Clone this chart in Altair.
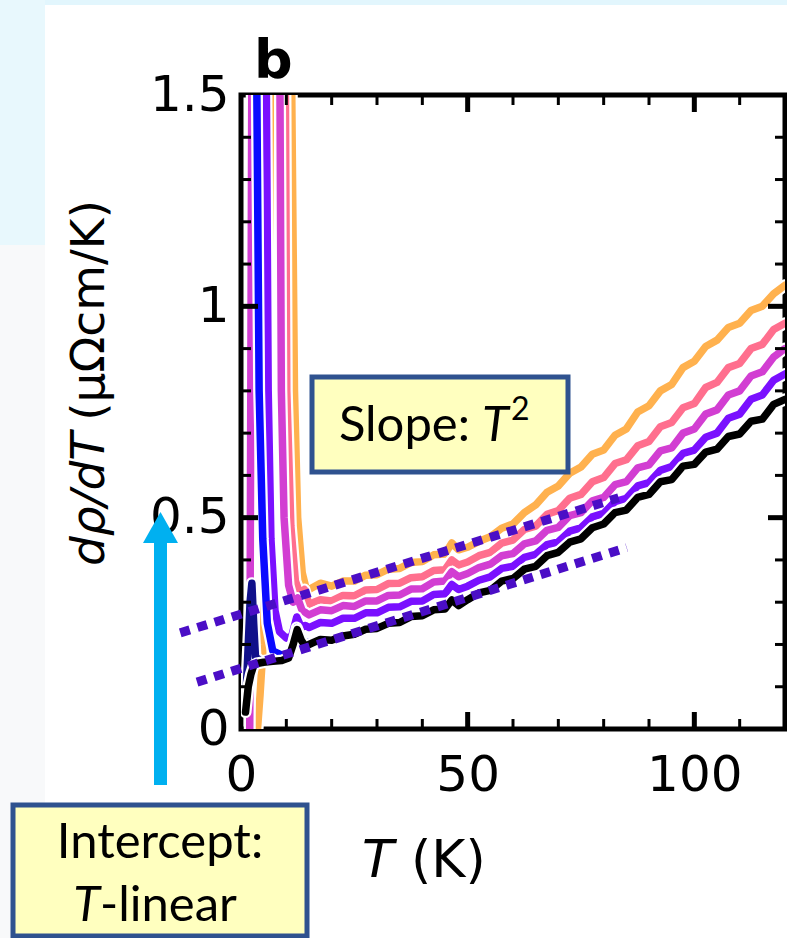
import altair as alt
import pandas as pd

# ---------------- data ----------------
SERIES_NAMES = ["orange", "pink", "magenta", "violet", "blue", "navy", "black"]
SERIES_COLORS = ["#ffb14e", "#ff6f8e", "#d23ed2", "#7a10ff", "#0a0aff", "#10108a", "#000000"]

T_HIGH = [15, 17.5, 20, 22.5, 25, 27.5, 30, 32.5, 35, 37.5, 40, 42.5, 45, 46.5, 48,
          50, 52.5, 55, 57.5, 60, 62.5, 65, 67.5, 70, 72.5, 75, 77.5, 80, 82.5, 85,
          87.5, 90, 92.5, 95, 97.5, 100, 102.5, 105, 107.5, 110, 112.5, 115, 117.5, 120]

HIGH_ORANGE = [0.330, 0.345, 0.338, 0.350, 0.350, 0.364, 0.365, 0.378, 0.380, 0.394, 0.396, 0.412, 0.414, 0.440, 0.424,
               0.430, 0.444, 0.455, 0.475, 0.485, 0.512, 0.530, 0.560, 0.575, 0.605, 0.620, 0.650, 0.660, 0.695, 0.710,
               0.750, 0.765, 0.800, 0.815, 0.855, 0.870, 0.905, 0.920, 0.950, 0.960, 0.990, 1.000, 1.030, 1.050]
HIGH_PINK = [0.295, 0.306, 0.303, 0.316, 0.315, 0.329, 0.330, 0.344, 0.345, 0.358, 0.360, 0.375, 0.377, 0.400, 0.388,
             0.395, 0.410, 0.418, 0.440, 0.447, 0.472, 0.480, 0.508, 0.517, 0.546, 0.555, 0.585, 0.595, 0.628, 0.637,
             0.670, 0.680, 0.715, 0.725, 0.760, 0.770, 0.808, 0.820, 0.855, 0.865, 0.900, 0.910, 0.945, 0.960]
HIGH_MAGENTA = [0.270, 0.282, 0.280, 0.292, 0.290, 0.303, 0.303, 0.316, 0.317, 0.331, 0.332, 0.348, 0.350, 0.372, 0.360,
                0.368, 0.382, 0.390, 0.410, 0.415, 0.438, 0.445, 0.470, 0.477, 0.505, 0.512, 0.540, 0.548, 0.578, 0.585,
                0.618, 0.625, 0.658, 0.665, 0.700, 0.710, 0.745, 0.755, 0.790, 0.800, 0.835, 0.845, 0.880, 0.900]
HIGH_VIOLET = [0.240, 0.252, 0.250, 0.262, 0.262, 0.275, 0.275, 0.288, 0.289, 0.302, 0.303, 0.318, 0.320, 0.342, 0.330,
               0.338, 0.352, 0.360, 0.380, 0.385, 0.406, 0.413, 0.436, 0.443, 0.468, 0.476, 0.502, 0.510, 0.538, 0.546,
               0.575, 0.583, 0.612, 0.621, 0.652, 0.660, 0.690, 0.700, 0.735, 0.745, 0.780, 0.790, 0.825, 0.840]
HIGH_BLACK = [0.200, 0.212, 0.210, 0.220, 0.224, 0.236, 0.238, 0.250, 0.252, 0.266, 0.268, 0.282, 0.284, 0.305, 0.292,
              0.306, 0.322, 0.328, 0.350, 0.356, 0.378, 0.385, 0.410, 0.418, 0.442, 0.450, 0.476, 0.485, 0.512, 0.518,
              0.548, 0.555, 0.585, 0.590, 0.622, 0.626, 0.655, 0.662, 0.692, 0.698, 0.728, 0.733, 0.768, 0.780]

LOW_T_ORANGE = [3.3, 4.2, 4.9, 5.6, 6.3, 7.0, 8.5, 10.0, 11.2, 11.8, 12.5, 13.5, 14.3]
LOW_V_ORANGE = [-0.05, 0.08, 0.2, 0.5, 1.2, 2.2, 3.0, 2.6, 1.5, 0.8, 0.5, 0.37, 0.335]
LOW_T_PINK = [8.0, 9.8, 10.1, 11.0, 12.0, 13.0, 14.0]
LOW_V_PINK = [3.0, 1.5, 0.8, 0.48, 0.35, 0.32, 0.33]
LOW_T_MAGENTA = [1.9, 2.1, 2.4, 3.5, 6.5, 8.6, 8.9, 9.5, 10.5, 11.5, 12.5, 13.5, 14.3]
LOW_V_MAGENTA = [-0.1, 0.6, 1.6, 3.0, 3.0, 1.5, 0.8, 0.5, 0.34, 0.30, 0.31, 0.28, 0.275]
LOW_T_VIOLET = [4.5, 5.6, 6.0, 6.6, 7.5, 8.5, 10.0, 11.2, 12.3, 13.3, 14.2]
LOW_V_VIOLET = [3.0, 1.5, 0.8, 0.45, 0.28, 0.23, 0.215, 0.22, 0.265, 0.24, 0.245]
LOW_T_BLUE = [2.8, 3.5, 4.0, 4.8, 5.8, 7.0, 9.0, 11.0, 12.3, 13.5, 15.0]
LOW_V_BLUE = [3.0, 1.5, 0.8, 0.45, 0.25, 0.185, 0.175, 0.18, 0.24, 0.205, 0.205]
LOW_T_NAVY = [1.1, 1.6, 2.0, 2.4, 2.8, 3.2, 4.5, 7.0]
LOW_V_NAVY = [0.08, 0.2, 0.30, 0.345, 0.25, 0.17, 0.16, 0.165]
LOW_T_BLACK = [1.0, 1.6, 2.2, 2.8, 3.5, 5.0, 7.0, 9.0, 10.5, 11.5, 12.4, 13.3, 14.2]
LOW_V_BLACK = [0.04, 0.10, 0.13, 0.15, 0.155, 0.158, 0.16, 0.162, 0.168, 0.20, 0.235, 0.21, 0.195]

SERIES_T = {
    "orange": LOW_T_ORANGE + T_HIGH,
    "pink": LOW_T_PINK + T_HIGH,
    "magenta": LOW_T_MAGENTA + T_HIGH,
    "violet": LOW_T_VIOLET + T_HIGH,
    "blue": LOW_T_BLUE,
    "navy": LOW_T_NAVY,
    "black": LOW_T_BLACK + T_HIGH,
}
SERIES_V = {
    "orange": LOW_V_ORANGE + HIGH_ORANGE,
    "pink": LOW_V_PINK + HIGH_PINK,
    "magenta": LOW_V_MAGENTA + HIGH_MAGENTA,
    "violet": LOW_V_VIOLET + HIGH_VIOLET,
    "blue": LOW_V_BLUE,
    "navy": LOW_V_NAVY,
    "black": LOW_V_BLACK + HIGH_BLACK,
}

# dotted guide lines (T, value)
DOT_UPPER_T = [-13.4, 83.3]
DOT_UPPER_V = [0.2275, 0.547]
DOT_LOWER_T = [-9.7, 85.1]
DOT_LOWER_V = [0.111, 0.429]

X_LABEL_TICKS = [0, 50, 100]
X_MAJOR_TICKS = [50, 100]
X_MINOR_TICKS = [10, 20, 30, 40, 60, 70, 80, 90, 110]
Y_LABEL_TICKS = [0, 0.5, 1.0, 1.5]
Y_MAJOR_TICKS = [0.5, 1.0]
Y_MINOR_TICKS = [0.1, 0.2, 0.3, 0.4, 0.6, 0.7, 0.8, 0.9, 1.1, 1.2, 1.3, 1.4]

# ---------------- layout ----------------
W, H = 544, 634
PAD_L, PAD_T = 241, 95
TOTAL_W, TOTAL_H = 787, 938
FONT = "DejaVu Sans"
ANN_FONT = "Lato"

xs = alt.Scale(domain=[0, 120], nice=False, zero=False)
ys = alt.Scale(domain=[0, 1.5], nice=False, zero=False)
X_AXIS = alt.Axis(values=X_LABEL_TICKS, title=None, domain=False, ticks=False, grid=False,
                  labelFont=FONT, labelFontSize=50, labelPadding=21, labelColor="black",
                  labelFlush=False)
Y_AXIS = alt.Axis(values=Y_LABEL_TICKS, title=None, domain=False, ticks=False, grid=False,
                  format=".1~f", labelFont=FONT, labelFontSize=50, labelPadding=12,
                  labelColor="black")


def X(field):
    return alt.X(field, type="quantitative", scale=xs, axis=X_AXIS)


def Y(field):
    return alt.Y(field, type="quantitative", scale=ys, axis=Y_AXIS)


layers = []

# slide-like background bands
bg = pd.DataFrame({"a": [0]})
layers.append(alt.Chart(bg).mark_rect(color="#e2f6fd").encode(
    x=alt.value(-PAD_L), x2=alt.value(TOTAL_W - PAD_L), y=alt.value(-PAD_T), y2=alt.value(-PAD_T + 5)))
layers.append(alt.Chart(bg).mark_rect(color="#e8f8fd").encode(
    x=alt.value(-PAD_L), x2=alt.value(-PAD_L + 45), y=alt.value(-PAD_T), y2=alt.value(150)))
layers.append(alt.Chart(bg).mark_rect(color="#f8f9fa").encode(
    x=alt.value(-PAD_L), x2=alt.value(-PAD_L + 45), y=alt.value(150), y2=alt.value(TOTAL_H - PAD_T)))

# curves, each with a white halo underneath
for name, color in zip(SERIES_NAMES, SERIES_COLORS):
    df = pd.DataFrame({"T": SERIES_T[name], "v": SERIES_V[name], "i": range(len(SERIES_T[name]))})
    layers.append(alt.Chart(df).mark_line(clip=True, color="white", strokeWidth=12,
                                          strokeJoin="round", strokeCap="round").encode(
        x=X("T"), y=Y("v"), order="i:Q"))
    layers.append(alt.Chart(df).mark_line(clip=True, color=color, strokeWidth=7.5,
                                          strokeJoin="round", strokeCap="round").encode(
        x=X("T"), y=Y("v"), order="i:Q"))

# dotted guide lines
for tt, vv in [(DOT_UPPER_T, DOT_UPPER_V), (DOT_LOWER_T, DOT_LOWER_V)]:
    df = pd.DataFrame({"T": tt, "v": vv})
    layers.append(alt.Chart(df).mark_line(clip=False, color="#4b0ec6", strokeWidth=9,
                                          strokeDash=[10, 8], strokeCap="butt").encode(
        x=X("T"), y=Y("v")))

# inward ticks on all four sides
def xticks(vals, length, width):
    df = pd.DataFrame({"t": vals})
    bot = alt.Chart(df).mark_rule(color="black", strokeWidth=width).encode(
        x=X("t"), y=alt.value(H), y2=alt.value(H - length))
    top = alt.Chart(df).mark_rule(color="black", strokeWidth=width).encode(
        x=X("t"), y=alt.value(0), y2=alt.value(length))
    return [bot, top]


def yticks(vals, length, width):
    df = pd.DataFrame({"t": vals})
    left = alt.Chart(df).mark_rule(color="black", strokeWidth=width).encode(
        y=Y("t"), x=alt.value(0), x2=alt.value(length))
    right = alt.Chart(df).mark_rule(color="black", strokeWidth=width).encode(
        y=Y("t"), x=alt.value(W), x2=alt.value(W - length))
    return [left, right]


layers += xticks(X_MINOR_TICKS, 10, 3) + xticks(X_MAJOR_TICKS, 17, 5)
layers += yticks(Y_MINOR_TICKS, 10, 3) + yticks(Y_MAJOR_TICKS, 17, 5)


def text(s, x, y, size, font=FONT, style="normal", weight="normal", align="left",
         baseline="alphabetic", angle=0):
    kw = dict(font=font, fontSize=size, fontStyle=style, fontWeight=weight, align=align,
              baseline=baseline, color="black")
    if angle:
        kw["angle"] = angle
    return alt.Chart(pd.DataFrame({"s": [s]})).mark_text(**kw).encode(
        x=alt.value(x), y=alt.value(y), text="s:N")


# panel letter
layers.append(text("b", 254 - PAD_L, 78 - PAD_T, 54, weight="bold"))

# axis titles
layers.append(text("T", 362 - PAD_L, 877 - PAD_T, 52, style="italic"))
layers.append(text("(K)", 411 - PAD_L, 877 - PAD_T, 52))
layers.append(text("dρ/dT", 104 - PAD_L, 566 - PAD_T, 47, style="italic", angle=270))
layers.append(text("(μΩcm/K)", 104 - PAD_L, 200 - PAD_T, 47, align="right", angle=270))

# annotation boxes
def box(x1, x2, y1, y2):
    return alt.Chart(pd.DataFrame({"a": [0]})).mark_rect(
        fill="#ffffbf", stroke="#2f528f", strokeWidth=5).encode(
        x=alt.value(x1), x2=alt.value(x2), y=alt.value(y1), y2=alt.value(y2))


layers.append(box(312 - PAD_L, 568 - PAD_L, 377 - PAD_T, 472 - PAD_T))
layers.append(text("Slope:", 470 - PAD_L, 441 - PAD_T, 49, font=ANN_FONT, align="right"))
layers.append(text("T", 482 - PAD_L, 441 - PAD_T, 49, font=ANN_FONT, style="italic"))
layers.append(text("2", 511 - PAD_L, 420 - PAD_T, 32, font=ANN_FONT))

layers.append(box(13 - PAD_L, 307 - PAD_L, 805 - PAD_T, 936 - PAD_T))
layers.append(text("Intercept:", 160 - PAD_L, 858 - PAD_T, 49, font=ANN_FONT, align="center"))
layers.append(text("T", 100 - PAD_L, 921 - PAD_T, 49, font=ANN_FONT, style="italic", align="right"))
layers.append(text("-linear", 100 - PAD_L, 921 - PAD_T, 49, font=ANN_FONT))

# cyan arrow
layers.append(alt.Chart(pd.DataFrame({"a": [0]})).mark_rule(color="#00b0f0", strokeWidth=13).encode(
    x=alt.value(160.5 - PAD_L), y=alt.value(785 - PAD_T), y2=alt.value(540 - PAD_T)))
layers.append(alt.Chart(pd.DataFrame({"a": [0]})).mark_point(
    shape="M-1,0.886L1,0.886L0,-0.886Z", size=1225, filled=True, color="#00b0f0", opacity=1,
    strokeWidth=0).encode(x=alt.value(160.5 - PAD_L), y=alt.value(527.5 - PAD_T)))

chart = alt.layer(*layers).properties(
    width=W, height=H,
    padding={"left": PAD_L, "top": PAD_T, "right": TOTAL_W - PAD_L - W, "bottom": TOTAL_H - PAD_T - H},
    autosize=alt.AutoSizeParams(type="none"),
    background="white",
).configure_view(stroke="black", strokeWidth=5)

chart.save("out.html", embed_options={"renderer": "svg", "actions": False})
